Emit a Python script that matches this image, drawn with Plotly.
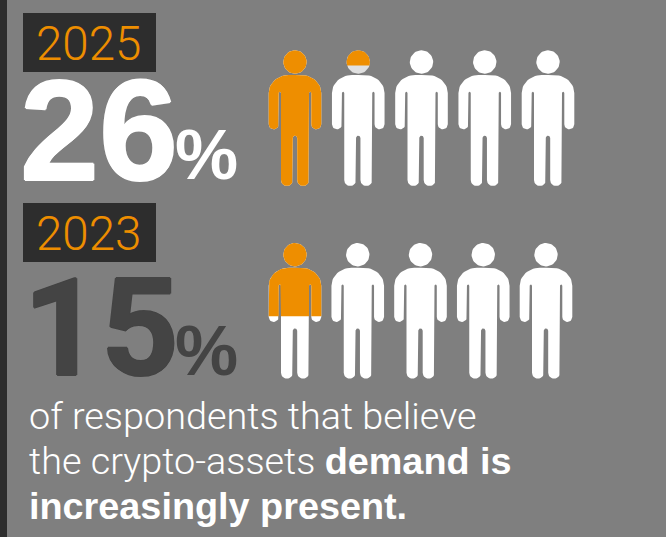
import math
import plotly.graph_objects as go

# Survey figures
years = ["2025", "2023"]
shares = [26, 15]
share_colors_dark = [False, True]
body_lines = [
    "of respondents that believe",
    "the crypto-assets <span style=\"font-family:'Liberation Sans';font-weight:bold\">demand is</span>",
    "<span style=\"font-family:'Liberation Sans';font-weight:bold\">increasingly present.</span>",
]

PEOPLE_PER_ROW = 5
PERCENT_PER_PERSON = 19.2   # share points covered by one figure
FILL_START = 4.65           # share at which the fill reaches the top of the head

W, H = 666, 537
BG = "#7f7f7f"
DARK = "#2d2d2d"
ORANGE = "#ee8e00"
NUM_DARK = "#444444"
WHITE = "#ffffff"
LIGHT = "#e0e0e0"
LIGHT_FONT = "Roboto"
BOLD_FONT = "Liberation Sans"

ROW_TOP = [62.0, 254.7]
ROW_LEFT = [295.0, 295.0]
ROW_STEP = [63.25, 62.75]
BOX_TOP = [13, 203]
BOX_H = 59
NUM_Y = [130, 328]
NUM_X = [18.5, 21.5]
NUM_SIZE = [142, 136]
NUM_FONT = ["Liberation Sans", "Roboto"]
PCT_Y = [154, 350]
HEAD_R = 11.7
FOOT_Y = 124.0


def arc(cx, cy, rx, ry, a0, a1, n=14):
    out = []
    for k in range(n + 1):
        a = math.radians(a0 + (a1 - a0) * k / n)
        out.append((cx + rx * math.cos(a), cy + ry * math.sin(a)))
    return out


def body_outline():
    # right half from the neck down to the crotch, then mirrored
    half = [(0.0, 13.0)]
    half += arc(6.3, 31.0, 20.0, 18.0, -90, 0)
    half += arc(21.3, 62.3, 5.0, 5.0, 0, 180)
    half += arc(15.15, 31.0, 1.15, 1.15, 0, -180, 6)
    half += arc(8.1, 118.1, 5.9, 5.9, 0, 180)
    half += arc(0.0, 76.0, 2.2, 2.2, 0, -90, 6)
    mirrored = [(-x, y) for x, y in reversed(half)]
    return half + mirrored


def head_outline():
    return arc(0, 0, HEAD_R, HEAD_R, 0, 360, 48)


def clip_above(poly, cut):
    # keep the part of a polygon lying above a horizontal line
    out = []
    for i, (x0, y0) in enumerate(poly):
        x1, y1 = poly[(i + 1) % len(poly)]
        if y0 <= cut:
            out.append((x0, y0))
        if (y0 <= cut) != (y1 <= cut):
            t = (cut - y0) / (y1 - y0)
            out.append((x0 + t * (x1 - x0), cut))
    return out


def append_poly(xs, ys, poly, dx, dy):
    if not poly:
        return
    xs += [p[0] + dx for p in poly] + [poly[0][0] + dx, None]
    ys += [p[1] + dy for p in poly] + [poly[0][1] + dy, None]


def add_area(fig, xs, ys, color):
    fig.add_trace(go.Scatter(x=xs, y=ys, mode="lines", fill="toself", fillcolor=color,
                             line=dict(width=0, color=color), hoverinfo="skip",
                             showlegend=False))


body = body_outline()
head = head_outline()
white_x, white_y, tint_x, tint_y, fill_x, fill_y = [], [], [], [], [], []

for row, share in enumerate(shares):
    level = (share - FILL_START) / PERCENT_PER_PERSON
    for i in range(PEOPLE_PER_ROW):
        dx = ROW_LEFT[row] + i * ROW_STEP[row]
        dy = ROW_TOP[row]
        frac = max(0.0, min(1.0, level - i))
        cut = -HEAD_R + frac * (FOOT_Y + HEAD_R)
        in_head = 0 < frac and cut < HEAD_R
        if in_head:
            append_poly(tint_x, tint_y, head, dx, dy)
        else:
            append_poly(white_x, white_y, head, dx, dy)
        append_poly(white_x, white_y, body, dx, dy)
        if frac > 0:
            append_poly(fill_x, fill_y, clip_above(head, cut), dx, dy)
            append_poly(fill_x, fill_y, clip_above(body, cut), dx, dy)

fig = go.Figure()
add_area(fig, white_x, white_y, WHITE)
add_area(fig, tint_x, tint_y, LIGHT)
add_area(fig, fill_x, fill_y, ORANGE)

shapes = [dict(type="rect", x0=0, x1=7, y0=0, y1=H, fillcolor=DARK, line_width=0, layer="below")]
for row in range(len(years)):
    shapes.append(dict(type="rect", x0=23, x1=156, y0=BOX_TOP[row], y1=BOX_TOP[row] + BOX_H,
                       fillcolor=DARK, line_width=0, layer="below"))


def label(x, y, text, size, color, family, weight="normal", shadow=None):
    font = dict(size=size, color=color, family=family, weight=weight)
    if shadow:
        font["shadow"] = shadow
    return dict(x=x, y=y, xref="x", yref="y", text=text, showarrow=False, xanchor="left",
                yanchor="middle", align="left", borderpad=0, font=font)


annotations = []
for row, (year, share) in enumerate(zip(years, shares)):
    color = NUM_DARK if share_colors_dark[row] else WHITE
    # a tight same-coloured halo gives the numerals their heavier weight
    halo = f"1px 0 0 {color}, -1px 0 0 {color}, 0 1px 0 {color}, 0 -1px 0 {color}"
    annotations.append(label(35, BOX_TOP[row] + 31, year, 47.5, ORANGE, LIGHT_FONT, 300))
    annotations.append(label(NUM_X[row], NUM_Y[row], str(share), NUM_SIZE[row], color,
                             NUM_FONT[row], "bold", halo))
    annotations.append(label(174, PCT_Y[row], "%", 71, color, BOLD_FONT, "bold"))
for k, line in enumerate(body_lines):
    annotations.append(label(28, 416 + k * 45, line, 37.8, WHITE, LIGHT_FONT, 300))

fig.update_layout(
    width=W, height=H, margin=dict(l=0, r=0, t=0, b=0),
    paper_bgcolor=BG, plot_bgcolor=BG, showlegend=False,
    xaxis=dict(range=[0, W], visible=False, fixedrange=True),
    yaxis=dict(range=[H, 0], visible=False, fixedrange=True),
    shapes=shapes, annotations=annotations,
)
fig.write_html("out.html", config=dict(displayModeBar=False))
